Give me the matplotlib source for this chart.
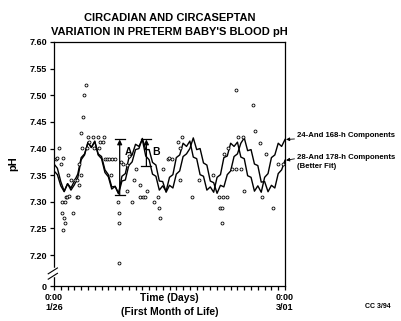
import matplotlib.pyplot as plt
import numpy as np

# fitted curves, sampled every half day from 0:00 1/26
days = [i * 0.5 for i in range(69)]
fit_24_168 = [
    7.371, 7.363, 7.338, 7.320, 7.334, 7.322, 7.332, 7.345, 7.379, 7.388,
    7.412, 7.402, 7.414, 7.388, 7.381, 7.355, 7.347, 7.324, 7.329, 7.316,
    7.348, 7.353, 7.381, 7.388, 7.408, 7.404, 7.417, 7.386, 7.379, 7.352,
    7.348, 7.322, 7.330, 7.320, 7.346, 7.351, 7.383, 7.388, 7.410, 7.404,
    7.414, 7.384, 7.381, 7.351, 7.348, 7.322, 7.328, 7.318, 7.346, 7.351,
    7.383, 7.386, 7.410, 7.404, 7.412, 7.384, 7.381, 7.349, 7.346, 7.320,
    7.330, 7.318, 7.346, 7.353, 7.383, 7.388, 7.410, 7.404, 7.417,
]
fit_28_178 = [
    7.358, 7.351, 7.330, 7.319, 7.334, 7.326, 7.339, 7.352, 7.383, 7.390,
    7.411, 7.402, 7.413, 7.390, 7.385, 7.360, 7.351, 7.328, 7.329, 7.315,
    7.339, 7.341, 7.368, 7.375, 7.398, 7.400, 7.419, 7.398, 7.398, 7.374,
    7.369, 7.339, 7.338, 7.318, 7.331, 7.326, 7.352, 7.358, 7.385, 7.390,
    7.400, 7.420, 7.398, 7.400, 7.373, 7.369, 7.339, 7.336, 7.316, 7.331,
    7.328, 7.351, 7.358, 7.385, 7.390, 7.410, 7.420, 7.396, 7.398, 7.371,
    7.368, 7.337, 7.338, 7.319, 7.331, 7.326, 7.353, 7.360, 7.378,
]

# measured blood pH (day, value)
obs_day = [
    0.29, 0.49, 0.78, 0.99, 1.28, 1.13, 1.62, 1.18, 1.52, 1.62, 1.37, 1.72,
    1.87, 2.02, 2.16, 2.55, 2.84, 3.05, 3.43, 3.58, 3.34, 3.72, 3.97, 3.72,
    3.93, 4.31, 4.46, 4.71, 4.17, 4.95, 5.70, 6.50, 7.30, 5.20, 6.80, 7.20,
    4.80, 5.90, 6.60, 7.50, 7.76, 8.10, 8.54, 8.98, 8.39, 9.46, 9.61, 9.61,
    9.61, 9.80, 10.11, 10.70, 11.44, 11.73, 10.74, 11.00, 12.07, 12.70, 12.70,
    13.06, 13.35, 13.73, 14.72, 15.31, 15.50, 15.60, 16.00, 16.82, 17.41,
    16.97, 18.30, 18.80, 18.59, 18.59, 20.24, 21.27, 23.36, 24.33, 24.92,
    25.42, 24.43, 24.68, 24.68, 25.02, 25.66, 26.20, 26.79, 27.48, 26.79,
    27.08, 27.86, 27.97, 29.25, 29.51, 30.25, 31.20, 30.57, 32.16, 33.01,
    33.63,
]
obs_ph = [
    7.381, 7.382, 7.401, 7.371, 7.382, 7.300, 7.300, 7.279, 7.269, 7.260, 7.248, 7.309,
    7.309, 7.351, 7.310, 7.341, 7.279, 7.341, 7.309, 7.309, 7.341, 7.331, 7.351, 7.371,
    7.430, 7.460, 7.500, 7.519, 7.401, 7.421, 7.421, 7.421, 7.421, 7.412, 7.412, 7.412,
    7.401, 7.401, 7.401, 7.381, 7.381, 7.381, 7.381, 7.381, 7.351, 7.300, 7.279, 7.260,
    7.186, 7.375, 7.371, 7.321, 7.300, 7.341, 7.369, 7.386, 7.362, 7.331, 7.309,
    7.309, 7.309, 7.320, 7.300, 7.309, 7.289, 7.269, 7.362, 7.381, 7.381,
    7.382, 7.412, 7.421, 7.401, 7.341, 7.309, 7.341, 7.351, 7.309, 7.309,
    7.309, 7.289, 7.289, 7.260, 7.389, 7.401, 7.361, 7.361, 7.361, 7.510,
    7.421, 7.421, 7.320, 7.482, 7.432, 7.411, 7.390, 7.309, 7.289, 7.371,
    7.371,
]

# A and B: (day, low, high)
arrow_a = (9.67, 7.3125, 7.417)
arrow_b = (13.60, 7.367, 7.417)

y_ticks = [7.20, 7.25, 7.30, 7.35, 7.40, 7.45, 7.50, 7.55, 7.60]
y_zero = 7.142  # axis origin, shown as 0 below the break

plt.rcParams['font.family'] = ['Liberation Sans', 'DejaVu Sans']
plt.rcParams['font.weight'] = 'bold'

fig = plt.figure(figsize=(4.02, 3.21), dpi=100)
ax = fig.add_axes([0.1343, 0.109, 0.5747, 0.7602])

ax.plot(days, fit_24_168, color='black', lw=1.0, zorder=3)
ax.plot(days, fit_28_178, color='black', lw=1.0, zorder=3)
ax.scatter(obs_day, obs_ph, s=4.5, facecolor='white', edgecolor='black',
           linewidths=0.6, zorder=4)

# amplitude markers
for (d, lo, hi), name in [(arrow_a, 'A'), (arrow_b, 'B')]:
    ax.annotate('', xy=(d, hi), xytext=(d, lo),
                arrowprops=dict(arrowstyle='-|>', color='black', lw=0.9,
                                mutation_scale=7, shrinkA=0, shrinkB=0),
                zorder=5)
    ax.plot([d - 0.75, d + 0.75], [hi, hi], color='black', lw=0.9, zorder=5)
    ax.plot([d - 0.75, d + 0.75], [lo, lo], color='black', lw=0.9, zorder=5)
    ax.text(d + 0.8, 7.394, name, fontsize=7.5, fontweight='bold',
            ha='left', va='center', zorder=6)

ax.set_xlim(0, 34)
ax.set_ylim(y_zero, 7.60)
ax.set_yticks([y_zero] + y_ticks)
ax.set_yticklabels(['0'] + ['%.2f' % v for v in y_ticks])
ax.set_xticks(np.arange(0, 35, 1))
ax.set_xticklabels(['0:00\n1/26'] + [''] * 33 + ['0:00\n3/01'])
ax.tick_params(axis='both', direction='out', length=3, width=0.9,
               labelsize=6.5, pad=2)
for lbl in ax.get_xticklabels() + ax.get_yticklabels():
    lbl.set_fontweight('bold')
for sp in ax.spines.values():
    sp.set_linewidth(0.9)

ax.set_ylabel('pH', fontsize=8, fontweight='bold', labelpad=8)
ax.set_xlabel('Time (Days)\n(First Month of Life)', fontsize=7.5,
              fontweight='bold', labelpad=-14, linespacing=1.5)

# broken y axis between 7.20 and 0
ax.plot([0, 0], [0.045, 0.068], transform=ax.transAxes, color='white',
        lw=2.5, clip_on=False, zorder=6)
for yb in (0.040, 0.062):
    ax.plot([-0.025, 0.015], [yb - 0.012, yb + 0.012], transform=ax.transAxes,
            color='black', lw=0.8, clip_on=False, zorder=7)

ax.set_title("CIRCADIAN AND CIRCASEPTAN\nVARIATION IN PRETERM BABY'S BLOOD pH",
             fontsize=8.0, fontweight='bold', pad=5, linespacing=1.5)

# curve labels at the right edge
ax.annotate('24-And 168-h Components', xy=(34.15, fit_24_168[-1]),
            xytext=(35.8, 7.424), fontsize=5.6, fontweight='bold',
            ha='left', va='center', annotation_clip=False,
            arrowprops=dict(arrowstyle='-|>', color='black', lw=0.6,
                            mutation_scale=5, shrinkA=0, shrinkB=0))
ax.annotate('28-And 178-h Components\n(Better Fit)',
            xy=(34.15, fit_28_178[-1]), xytext=(35.8, 7.375), fontsize=5.6,
            fontweight='bold', ha='left', va='center', annotation_clip=False,
            linespacing=1.4,
            arrowprops=dict(arrowstyle='-|>', color='black', lw=0.6,
                            mutation_scale=5, shrinkA=0, shrinkB=0,
                            relpos=(0, 0.72)))

fig.text(0.908, 0.04, 'CC 3/94', fontsize=5, fontweight='bold', ha='left')

fig.savefig('out.png', dpi=100)
